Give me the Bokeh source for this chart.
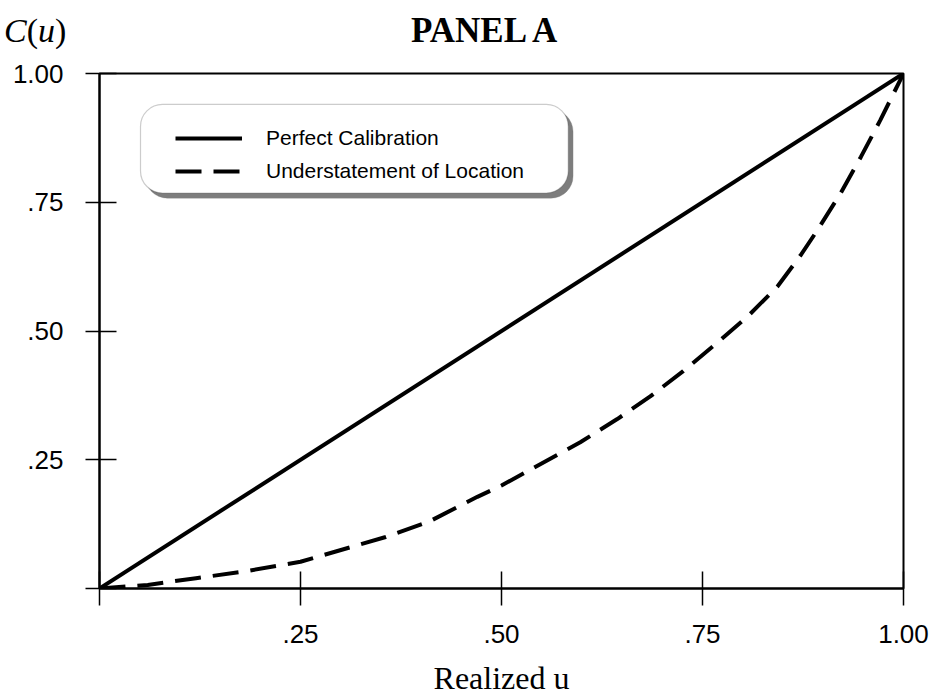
from bokeh.plotting import figure
from bokeh.models import (BoxAnnotation, Legend, LegendItem, FixedTicker,
                          Range1d, Div)
from bokeh.layouts import column
from bokeh.embed import file_html
from bokeh.resources import INLINE

# ---- data ----
perfect_u = [0.0, 1.0]
perfect_c = [0.0, 1.0]

under_u = [0.0, 0.06, 0.12, 0.18, 0.25, 0.356, 0.41, 0.47, 0.5, 0.598, 0.644,
           0.685, 0.726, 0.769, 0.806, 0.843, 0.872, 0.893, 0.922, 0.947,
           0.971, 1.0]
under_c = [0.0, 0.007, 0.02, 0.033, 0.052, 0.10, 0.13, 0.178, 0.20, 0.284,
           0.329, 0.373, 0.422, 0.478, 0.528, 0.586, 0.647, 0.696, 0.768,
           0.838, 0.909, 1.0]

tick_values = [0.0, 0.25, 0.5, 0.75, 1.0]
tick_labels = ["", ".25", ".50", ".75", "1.00"]

series_names = ["Perfect Calibration", "Understatement of Location"]
title_text = "PANEL A"
x_title = "Realized u"

# ---- header (title and y-axis caption) ----
header_html = (
    '<div style="position:relative;width:935px;height:60px;'
    'font-family:\'Liberation Serif\',serif;color:black;">'
    '<span style="position:absolute;left:4px;top:13px;font-size:34px;'
    'line-height:36px;white-space:nowrap;"><i>C</i>(<i>u</i>)</span>'
    '<span style="position:absolute;left:411px;top:13px;font-size:35px;'
    'line-height:36px;font-weight:bold;white-space:nowrap;">'
    + title_text + '</span></div>'
)
header = Div(text=header_html, width=935, height=60, margin=0)

# ---- figure ----
p = figure(width=935, height=638, x_range=Range1d(0, 1), y_range=Range1d(0, 1),
           output_backend="svg", toolbar_location=None,
           min_border_left=99, min_border_right=32,
           min_border_top=13, min_border_bottom=108, margin=0)
p.background_fill_color = "white"
p.border_fill_color = "white"
p.grid.visible = False
p.outline_line_color = "black"
p.outline_line_width = 2

overrides = {v: s for v, s in zip(tick_values, tick_labels)}
for ax in (p.xaxis[0], p.yaxis[0]):
    ax.ticker = FixedTicker(ticks=tick_values)
    ax.major_label_overrides = overrides
    ax.minor_tick_line_color = None
    ax.axis_line_width = 2
    ax.axis_line_color = "black"
    ax.major_tick_line_color = "black"
    ax.major_tick_line_width = 1.5
    ax.major_label_text_font = "Liberation Sans"
    ax.major_label_text_font_size = "26px"
    ax.major_label_text_color = "black"

p.xaxis.major_tick_in = 17
p.xaxis.major_tick_out = 17
p.xaxis.major_label_standoff = 19
p.yaxis.major_tick_in = 17
p.yaxis.major_tick_out = 14
p.yaxis.major_label_standoff = 22

p.xaxis.axis_label = x_title
p.xaxis.axis_label_text_font = "Liberation Serif"
p.xaxis.axis_label_text_font_style = "normal"
p.xaxis.axis_label_text_font_size = "32px"
p.xaxis.axis_label_text_color = "black"
p.xaxis.axis_label_standoff = 14

# legend box (shadow + rounded box)
shadow = BoxAnnotation(left=0.057, right=0.589, top=0.930, bottom=0.758,
                       fill_color="#7d7d7d", fill_alpha=1.0,
                       line_color="#7d7d7d", line_width=1, border_radius=22)
box = BoxAnnotation(left=0.051, right=0.583, top=0.940, bottom=0.768,
                    fill_color="white", fill_alpha=1.0,
                    line_color="#555555", line_width=1.2, border_radius=22)
p.add_layout(shadow)
p.add_layout(box)

r1 = p.line(perfect_u, perfect_c, line_color="black", line_width=4)
r2 = p.line(under_u, under_c, line_color="black", line_width=4,
            line_dash="26 12")

legend = Legend(items=[LegendItem(label=series_names[0], renderers=[r1]),
                       LegendItem(label=series_names[1], renderers=[r2])],
                location=(76, 405), padding=0, margin=0, spacing=9,
                glyph_width=67, glyph_height=24, label_height=24,
                label_standoff=24, border_line_color=None,
                background_fill_alpha=0.0,
                label_text_font="Liberation Sans",
                label_text_font_size="21px", label_text_color="black")
p.add_layout(legend, "center")

layout = column(header, p, spacing=0)

open("out.html", "w").write(file_html(layout, INLINE))
